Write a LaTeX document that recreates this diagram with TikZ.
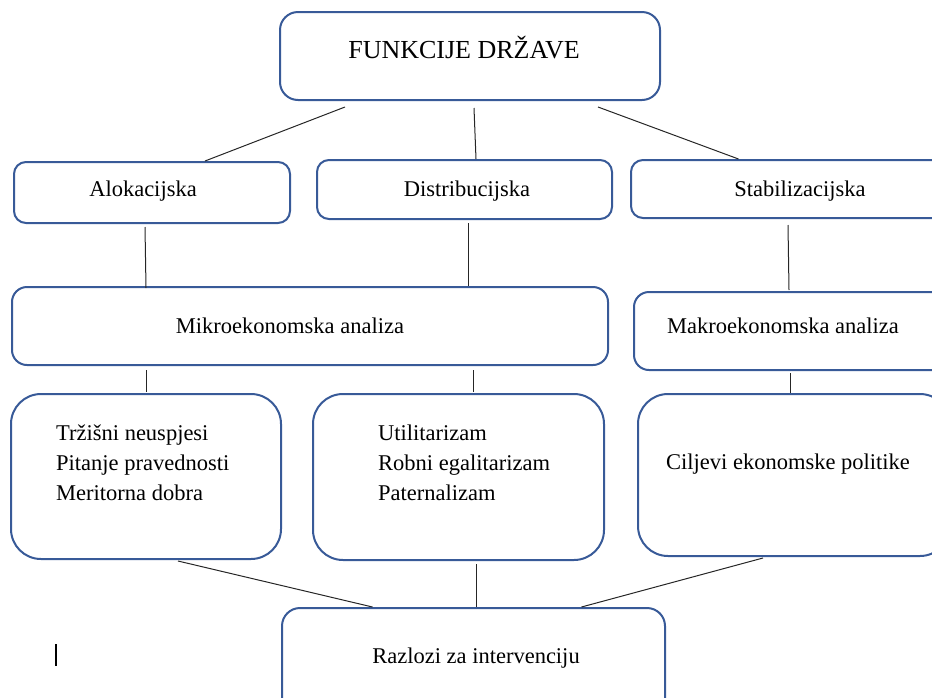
\documentclass[tikz,border=0pt]{standalone}
\usepackage{fontspec}
\setmainfont{Liberation Serif}
\definecolor{boxblue}{RGB}{56,90,152}
\newcommand\txtsize{\fontsize{22.5pt}{30pt}\selectfont}
\newcommand\titlesize{\fontsize{26pt}{30pt}\selectfont}

\begin{document}
\begin{tikzpicture}[x=1pt,y=-1pt,
    box/.style={draw=boxblue,line width=2pt,rounded corners=12pt,inner sep=0pt},
    bigbox/.style={box,rounded corners=30pt},
    lbl/.style={font=\txtsize,inner sep=0pt},
    link/.style={draw=black!85,line width=1pt}]
    \useasboundingbox (0,0) rectangle (932,697);
    \clip (0,0) rectangle (932,697);

    % boxes
    \node[box,rounded corners=18pt,minimum width=380pt,minimum height=88pt] (fd) at (470,56) {};
    \node[box,minimum width=276pt,minimum height=61pt] (alo) at (152,192.5) {};
    \node[box,minimum width=295pt,minimum height=59pt] (dis) at (464.5,189.5) {};
    \node[box,minimum width=329pt,minimum height=58pt] (sta) at (795.5,189) {};
    \node[box,rounded corners=15pt,minimum width=596pt,minimum height=78pt] (mik) at (310,326) {};
    \node[box,rounded corners=15pt,minimum width=316pt,minimum height=78pt] (mak) at (792,331) {};
    \node[bigbox,minimum width=270pt,minimum height=165pt] (pov) at (146,476.5) {};
    \node[bigbox,minimum width=291pt,minimum height=166pt] (dst) at (458.5,477) {};
    \node[bigbox,minimum width=312pt,minimum height=162pt] (cil) at (794,475) {};
    \node[box,rounded corners=18pt,minimum width=383pt,minimum height=110pt] (raz) at (473.5,663) {};

    % texts
    \node[lbl,font=\titlesize] (fdt) at (464,52) {FUNKCIJE DRŽAVE\strut};
    \node[lbl] (alot) at (143,190) {Alokacijska\strut};
    \node[lbl] (dist) at (467,190) {Distribucijska\strut};
    \node[lbl] (stat) at (800,190) {Stabilizacijska\strut};
    \node[lbl] (mikt) at (290,327) {Mikroekonomska analiza\strut};
    \node[lbl] (makt) at (783,327) {Makroekonomska analiza\strut};
    \node[lbl,anchor=west,align=left] (povt) at (56,463) {Tržišni neuspjesi\\Pitanje pravednosti\\Meritorna dobra};
    \node[lbl,anchor=west,align=left] (dstt) at (378,463) {Utilitarizam\\Robni egalitarizam\\Paternalizam};
    \node[lbl,anchor=west] (cilt) at (666,463) {Ciljevi ekonomske politike\strut};
    \node[lbl] (razt) at (476,657) {Razlozi za intervenciju\strut};

    % connectors
    \draw[link] ([shift={(-125,6)}]fd.south) -- ([shift={(53,0)}]alo.north);
    \draw[link] ([shift={(4,7)}]fd.south) -- ([shift={(11.5,0)}]dis.north);
    \draw[link] ([shift={(128,6)}]fd.south) -- ([shift={(-57,0)}]sta.north);
    \draw[link] ([shift={(-7,3)}]alo.south) -- ([shift={(-164,2)}]mik.north);
    \draw[link] ([shift={(3.5,3)}]dis.south) -- ([shift={(158,0)}]mik.north);
    \draw[link] ([shift={(-7.5,6)}]sta.south) -- ([shift={(-3,-1)}]mak.north);
    \draw[link] ([shift={(-164,4)}]mik.south) -- ([shift={(0,-1)}]pov.north);
    \draw[link] ([shift={(163,4)}]mik.south) -- ([shift={(14.5,-1)}]dst.north);
    \draw[link] ([shift={(-2,2)}]mak.south) -- ([shift={(-4,0)}]cil.north);
    \draw[link] ([shift={(32,1)}]pov.south) -- ([shift={(-101,0)}]raz.north);
    \draw[link] ([shift={(17.5,3)}]dst.south) -- ([shift={(2.5,0)}]raz.north);
    \draw[link] ([shift={(-31,1)}]cil.south) -- ([shift={(108,0)}]raz.north);

    % cursor mark
    \coordinate (curtop) at (56,644);
    \coordinate (curbot) at (56,666);
    \draw[line width=1.2pt] (curtop) -- (curbot);
\end{tikzpicture}
\end{document}
